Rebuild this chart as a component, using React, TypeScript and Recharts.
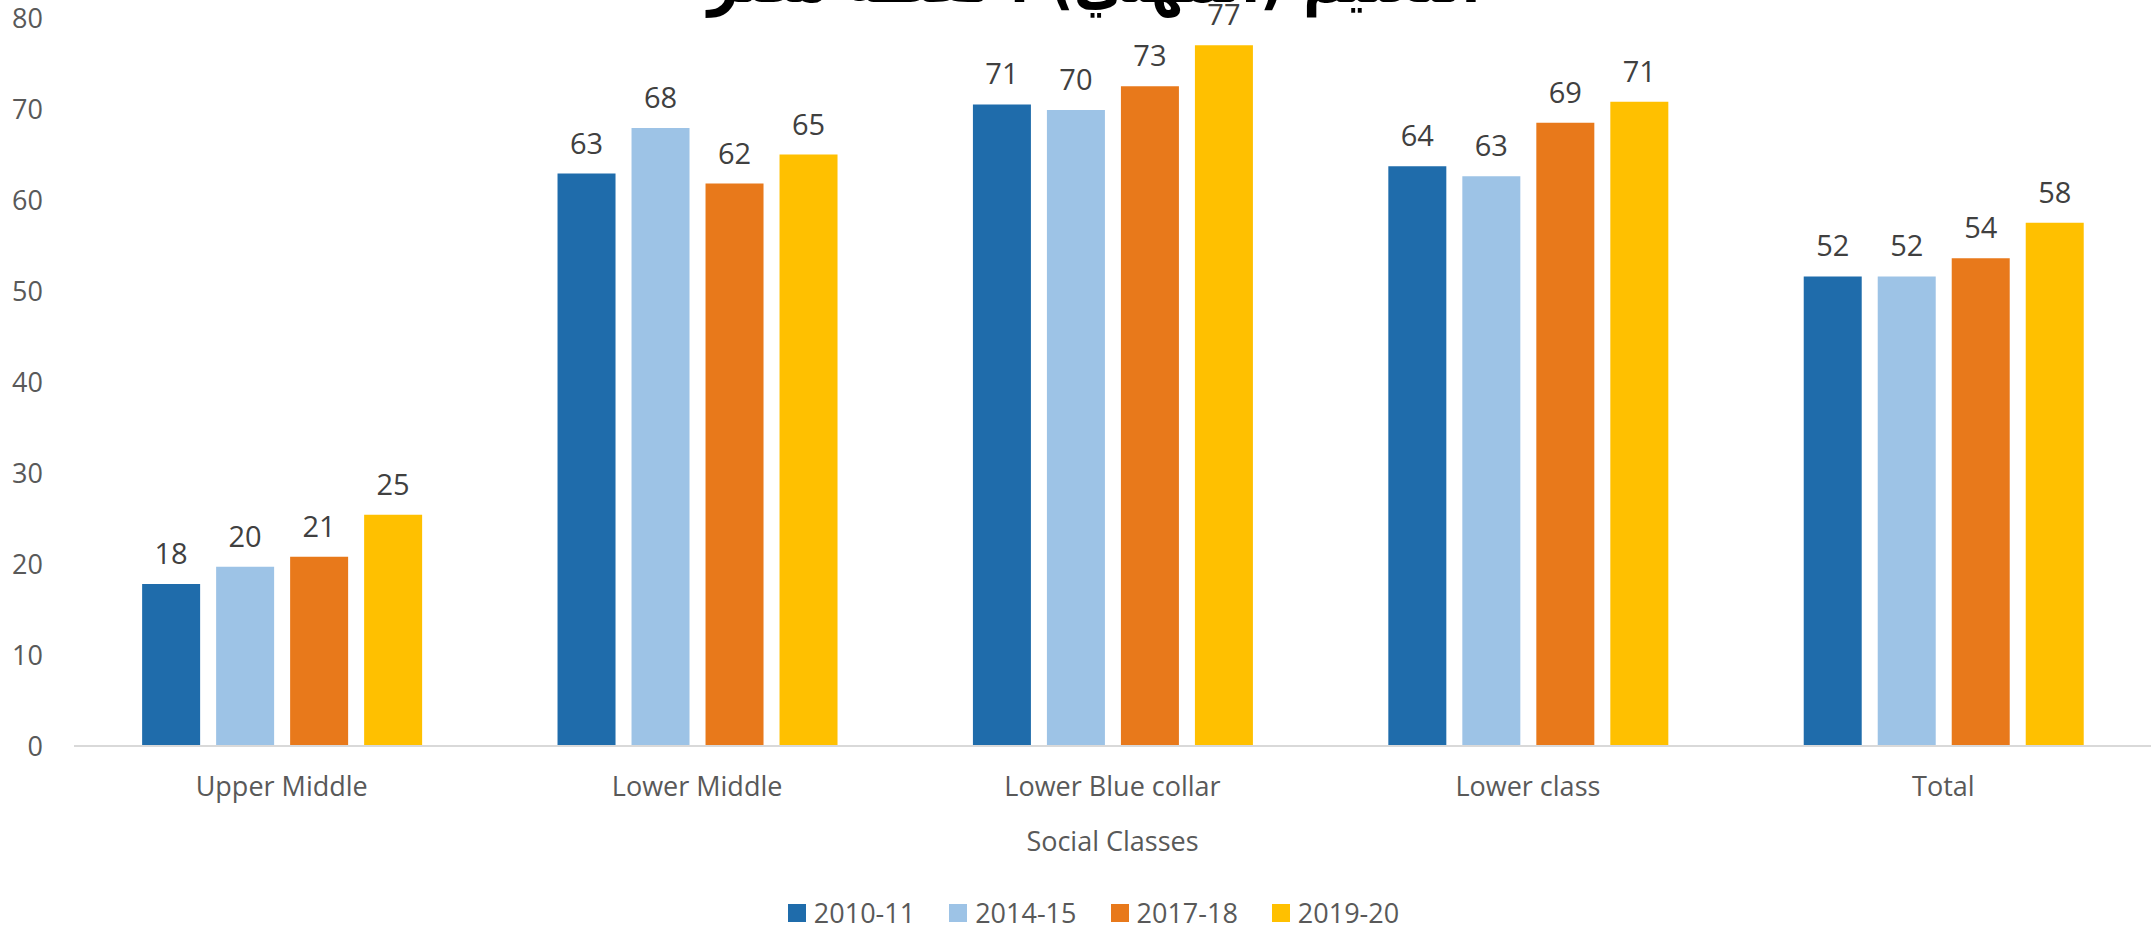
import { BarChart, Bar, XAxis, YAxis, Legend, LabelList } from "recharts";

const categories = ["Upper Middle", "Lower Middle", "Lower Blue collar", "Lower class", "Total"];
const seriesNames = ["2010-11", "2014-15", "2017-18", "2019-20"];
const values2010 = [17.8, 62.9, 70.5, 63.7, 51.6];
const values2014 = [19.7, 67.9, 69.9, 62.6, 51.6];
const values2017 = [20.8, 61.8, 72.5, 68.5, 53.6];
const values2019 = [25.4, 65.0, 77.0, 70.8, 57.5];
const yTicks = [0, 10, 20, 30, 40, 50, 60, 70, 80];

const colors = ["#1F6CAB", "#9DC3E6", "#E8791B", "#FFC000"];
const titleText = "التعليم (المهني) : نقطة مصر";

const data = categories.map((name, i) => ({
  name,
  [seriesNames[0]]: values2010[i],
  [seriesNames[1]]: values2014[i],
  [seriesNames[2]]: values2017[i],
  [seriesNames[3]]: values2019[i],
}));

function LegendContent(props: any) {
  const items = props.payload || [];
  return (
    <div
      style={{
        display: "flex",
        justifyContent: "center",
        alignItems: "center",
        height: 30,
        paddingLeft: 36,
        boxSizing: "border-box",
        width: "100%",
      }}
    >
      {items.map((item: any, i: number) => (
        <div key={item.value} style={{ display: "flex", alignItems: "center", marginRight: i < items.length - 1 ? 34 : 0 }}>
          <span style={{ width: 18, height: 18, background: item.color, display: "inline-block" }} />
          <span style={{ marginLeft: 8, fontSize: 27, lineHeight: "28px", color: "#595959" }}>{item.value}</span>
        </div>
      ))}
    </div>
  );
}

export default function App() {
  return (
    <div
      style={{
        position: "absolute",
        left: 0,
        top: 0,
        width: 2151,
        height: 929,
        overflow: "hidden",
        background: "#fff",
        fontFamily: "'Open Sans', sans-serif",
      }}
    >
      {/* title sits mostly above the picture, as in the source */}
      <div
        style={{
          position: "absolute",
          left: 0,
          width: 2188,
          top: -52,
          textAlign: "center",
          direction: "rtl",
          fontFamily: "'DejaVu Sans', sans-serif",
          fontWeight: "bold",
          fontSize: 64,
          lineHeight: "64px",
          color: "#000",
          transform: "scaleX(0.84)",
          transformOrigin: "center",
        }}
      >
        {titleText}
      </div>

      <div style={{ position: "absolute", left: 0, top: 0 }}>
        <BarChart
          width={2151}
          height={929}
          data={data}
          margin={{ top: 18, right: 0, bottom: 73, left: 0 }}
          barCategoryGap="16.4%"
          barGap={16}
        >
          <XAxis
            dataKey="name"
            axisLine={{ stroke: "#D9D9D9", strokeWidth: 2 }}
            tickLine={false}
            tickSize={0}
            tickMargin={31}
            height={110}
            interval={0}
            tick={{ fill: "#595959", fontSize: 27 }}
            label={{ value: "Social Classes", position: "insideBottom", offset: 5, fill: "#595959", fontSize: 27 }}
          />
          <YAxis
            domain={[0, 80]}
            ticks={yTicks}
            width={74}
            axisLine={false}
            tickLine={false}
            tickSize={0}
            tickMargin={31}
            tick={{ fill: "#595959", fontSize: 27 }}
          />
          <Legend
            layout="horizontal"
            verticalAlign="middle"
            align="center"
            content={<LegendContent />}
            wrapperStyle={{ top: 898, left: 0, width: 2151 }}
          />
          {seriesNames.map((s, i) => (
            <Bar key={s} dataKey={s} fill={colors[i]} isAnimationActive={false}>
              <LabelList
                dataKey={s}
                position="top"
                offset={20}
                formatter={(v: any) => Math.round(Number(v))}
                fill="#404040"
                fontSize={29}
              />
            </Bar>
          ))}
        </BarChart>
      </div>
    </div>
  );
}
